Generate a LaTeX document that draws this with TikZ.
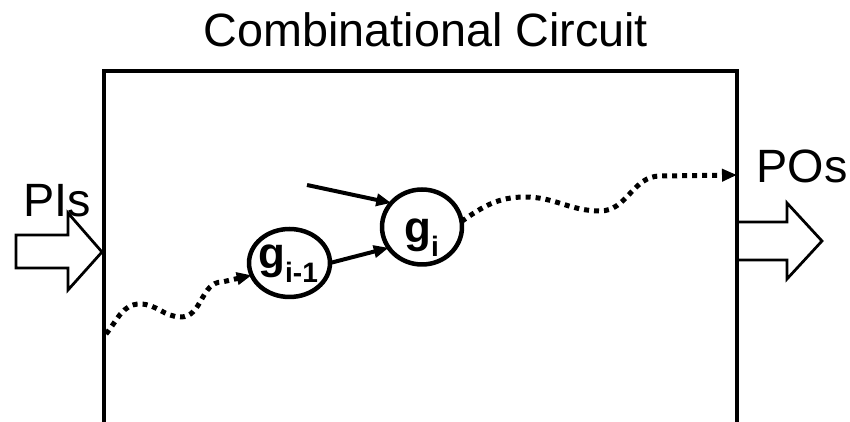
\documentclass[tikz,border=0pt]{standalone}
\usepackage{fontspec}
\setmainfont{Liberation Sans}
\usetikzlibrary{arrows.meta,shapes.geometric}

\tikzset{
  frame/.style={line width=0.075cm},
  label/.style={font=\fontsize{26.6}{30}\selectfont, inner sep=0pt},
  gate/.style={draw, ellipse, line width=0.09cm, inner sep=0pt, outer sep=0pt},
  gatename/.style={inner sep=0pt, anchor=base west, font=\fontsize{25}{28}\selectfont\bfseries},
  wire/.style={line width=0.08cm, -{Triangle[length=0.3cm,width=0.24cm]}},
  pathway/.style={line width=0.1cm, dash pattern=on 0.1cm off 0.1cm,
    -{Triangle[length=0.3cm,width=0.24cm]}},
  bigarrow/.style={line width=0.055cm, line join=miter},
}
\newcommand{\gsub}[1]{g\raisebox{-0.3em}{\fontsize{16}{16}\selectfont #1}}

\begin{document}
\begin{tikzpicture}[x=0.02cm,y=0.02cm]
  \useasboundingbox (0,0) rectangle (850,422);

  % circuit outline (open at the bottom)
  \draw[frame] (104,0) -- (104,351) -- (737,351) -- (737,0);

  % labels
  \node[label, anchor=base] (title) at (426,375) {Combinational Circuit};
  \node[label, anchor=base] (pis) at (57,205) {PIs};
  \node[label, anchor=base] (pos) at (802,239) {POs};

  % primary input / output block arrows
  \draw[bigarrow] (16,187) -- (68,187) -- (68,209) -- (102,170)
    -- (68,132) -- (68,154) -- (16,154) -- cycle;
  \draw[bigarrow] (737,200) -- (787,200) -- (787,219) -- (822,181)
    -- (787,143) -- (787,162) -- (737,162);

  % gates
  \node[gate, minimum width=1.62cm, minimum height=1.36cm] (gim1) at (289.5,159) {};
  \node[gatename] (gim1name) at (258,153) {\gsub{i-1}};
  \node[gate, minimum width=1.6cm, minimum height=1.5cm] (gi) at (422,195) {};
  \node[gatename] (giname) at (404,179) {\gsub{i}};

  % solid inputs of g_i
  \coordinate (in1) at (307,237);
  \draw[wire] (in1) -- (gi.142);
  \draw[wire] (gim1.east) -- (gi.212);

  % dotted sensitized path
  \coordinate (c1) at (106,88);
  \coordinate (c2) at (737,247);
  \draw[pathway] (c1) to[out=50,in=180] (140,118) to[out=0,in=180] (181,105)
    to[out=0,in=180] (222,140) -- (gim1.198);
  \draw[pathway] (gi.8) to[out=35,in=180] (525,225) to[out=0,in=180] (600,211)
    to[out=0,in=180] (660,246) -- (c2);
\end{tikzpicture}
\end{document}
